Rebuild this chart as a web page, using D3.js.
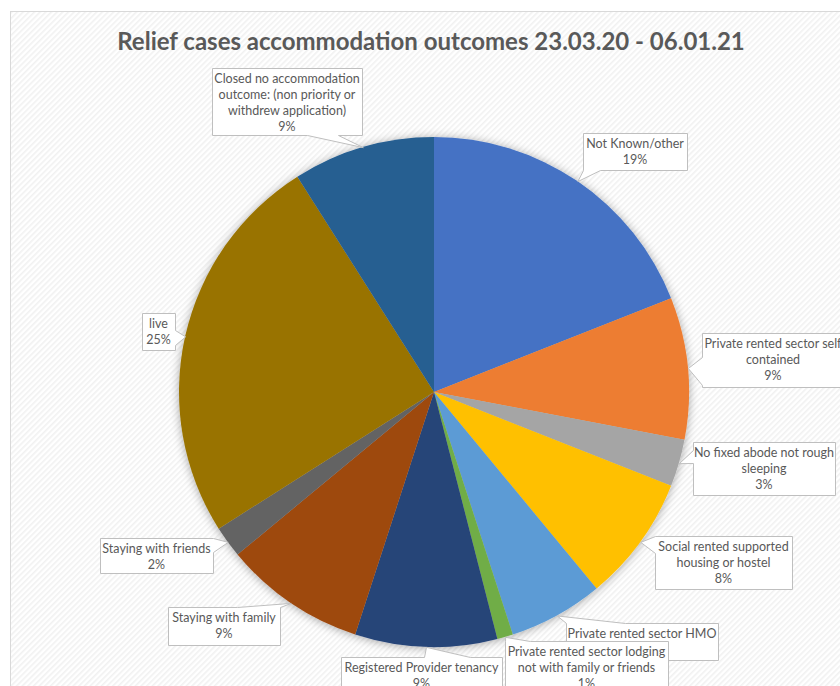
<!DOCTYPE html>
<html>
<head>
<meta charset="utf-8">
<script src="https://cdn.jsdelivr.net/npm/d3@7/dist/d3.min.js"></script>
<style>
  html, body { margin: 0; padding: 0; background: #ffffff; }
  svg { display: block; }
</style>
</head>
<body>
<svg id="chart" width="840" height="686"></svg>
<script>
// Outcome categories, clockwise from 12 o'clock
const categories = [
  "Not Known/other",
  "Private rented sector self contained",
  "No fixed abode not rough sleeping",
  "Social rented supported housing or hostel",
  "Private rented sector HMO",
  "Private rented sector lodging not with family or friends",
  "Registered Provider tenancy",
  "Staying with family",
  "Staying with friends",
  "live",
  "Closed no accommodation outcome: (non priority or withdrew application)"
];
// Share of relief cases (%)
const shares = [19, 9, 3, 8, 6, 1, 9, 9, 2, 25, 9];
const colors = ["#4472C4", "#ED7D31", "#A5A5A5", "#FFC000", "#5B9BD5", "#70AD47",
                "#264478", "#9E480E", "#636363", "#997300", "#255E91"];
const title = "Relief cases accommodation outcomes 23.03.20 - 06.01.21";

// Callout layout: wrapped lines, box rect, and which edge the pointer leaves from.
// showValue=false where the percentage line sits under a neighbouring callout.
const callouts = [
  { lines: ["Not Known/other"], box: [583, 133, 104, 37], side: "bottom", a: 0, b: 17 },
  { lines: ["Private rented sector self", "contained"], box: [702, 333, 142, 54], side: "left", a: 24, b: 52 },
  { lines: ["No fixed abode not rough", "sleeping"], box: [693, 442, 142, 53], side: "left", a: 8, b: 21 },
  { lines: ["Social rented supported", "housing or hostel"], box: [655, 536, 137, 53], side: "left", a: 0, b: 17 },
  { lines: ["Private rented sector HMO"], box: [566, 623, 152, 37], side: "top", a: 0, b: 59, showValue: false },
  { lines: ["Private rented sector lodging", "not with family or friends"], box: [505, 641, 163, 60], side: "top", a: 0, b: 25 },
  { lines: ["Registered Provider tenancy"], box: [341, 657, 161, 44], side: "top", a: 83, b: 129 },
  { lines: ["Staying with family"], box: [168, 607, 112, 38], side: "top", a: 69, b: 112 },
  { lines: ["Staying with friends"], box: [100, 538, 113, 35], side: "right", a: 0, b: 14 },
  { lines: ["live"], box: [142, 313, 33, 37], side: "right", a: 17, b: 32 },
  { lines: ["Closed no accommodation", "outcome: (non priority or", "withdrew application)"], box: [212, 68, 150, 67], side: "bottom", a: 95, b: 126 }
];

const W = 840, H = 686;
const cx = 434, cy = 392, R = 255;
const svg = d3.select("#chart");
const defs = svg.append("defs");

// faint diagonal texture of the chart area
const pat = defs.append("pattern")
  .attr("id", "hatch").attr("patternUnits", "userSpaceOnUse")
  .attr("width", 4).attr("height", 4)
  .attr("patternTransform", "rotate(45)");
pat.append("rect").attr("width", 4).attr("height", 4).attr("fill", "#ffffff");
pat.append("rect").attr("width", 1.6).attr("height", 4).attr("fill", "#f1f1f1");

const shadow = defs.append("filter").attr("id", "pieShadow")
  .attr("x", "-20%").attr("y", "-20%").attr("width", "140%").attr("height", "140%");
shadow.append("feDropShadow").attr("dx", 0).attr("dy", 1).attr("stdDeviation", 5)
  .attr("flood-color", "#000").attr("flood-opacity", 0.35);

svg.append("rect").attr("x", 10.5).attr("y", 11.5).attr("width", W).attr("height", H)
  .attr("fill", "url(#hatch)").attr("stroke", "#d9d9d9").attr("stroke-width", 1);

svg.append("text")
  .attr("x", 431).attr("y", 50)
  .attr("text-anchor", "middle")
  .attr("font-family", "Lato, 'Open Sans', sans-serif")
  .attr("font-weight", "bold")
  .attr("font-size", 24)
  .attr("fill", "#595959")
  .text(title);

const pie = d3.pie().sort(null).value(d => d)(shares);
const arc = d3.arc().innerRadius(0).outerRadius(R);
const edge = d3.arc().innerRadius(R).outerRadius(R);

const g = svg.append("g").attr("transform", `translate(${cx},${cy})`);
g.append("g").attr("filter", "url(#pieShadow)")
  .selectAll("path").data(pie).join("path")
  .attr("d", arc)
  .attr("fill", (d, i) => colors[i]);

function calloutPath(c, tip) {
  const [x, y, w, h] = c.box;
  const p = [];
  p.push([x, y]);
  if (c.side === "top") { p.push([x + c.a, y], tip, [x + c.b, y]); }
  p.push([x + w, y]);
  if (c.side === "right") { p.push([x + w, y + c.a], tip, [x + w, y + c.b]); }
  p.push([x + w, y + h]);
  if (c.side === "bottom") { p.push([x + c.b, y + h], tip, [x + c.a, y + h]); }
  p.push([x, y + h]);
  if (c.side === "left") { p.push([x, y + c.b], tip, [x, y + c.a]); }
  return "M" + p.map(q => q[0] + "," + q[1]).join("L") + "Z";
}

const labels = svg.append("g");
pie.forEach((d, i) => {
  const c = callouts[i];
  const m = edge.centroid(d);
  const tip = [cx + m[0], cy + m[1]];
  const lg = labels.append("g");
  lg.append("path")
    .attr("d", calloutPath(c, tip))
    .attr("fill", "#ffffff")
    .attr("stroke", "#bfbfbf")
    .attr("stroke-width", 1)
    .attr("transform", "translate(0.5,0.5)");
  const lines = c.showValue === false ? c.lines.slice()
    : c.lines.concat([Math.round(shares[i]) + "%"]);
  const t = lg.append("text")
    .attr("text-anchor", "middle")
    .attr("font-family", "Lato, 'Open Sans', sans-serif")
    .attr("font-size", 12.5)
    .attr("fill", "#595959");
  lines.forEach((s, k) => {
    t.append("tspan")
      .attr("x", c.box[0] + c.box[2] / 2)
      .attr("y", c.box[1] + 14.5 + k * 16.3)
      .text(s);
  });
});
</script>
</body>
</html>
